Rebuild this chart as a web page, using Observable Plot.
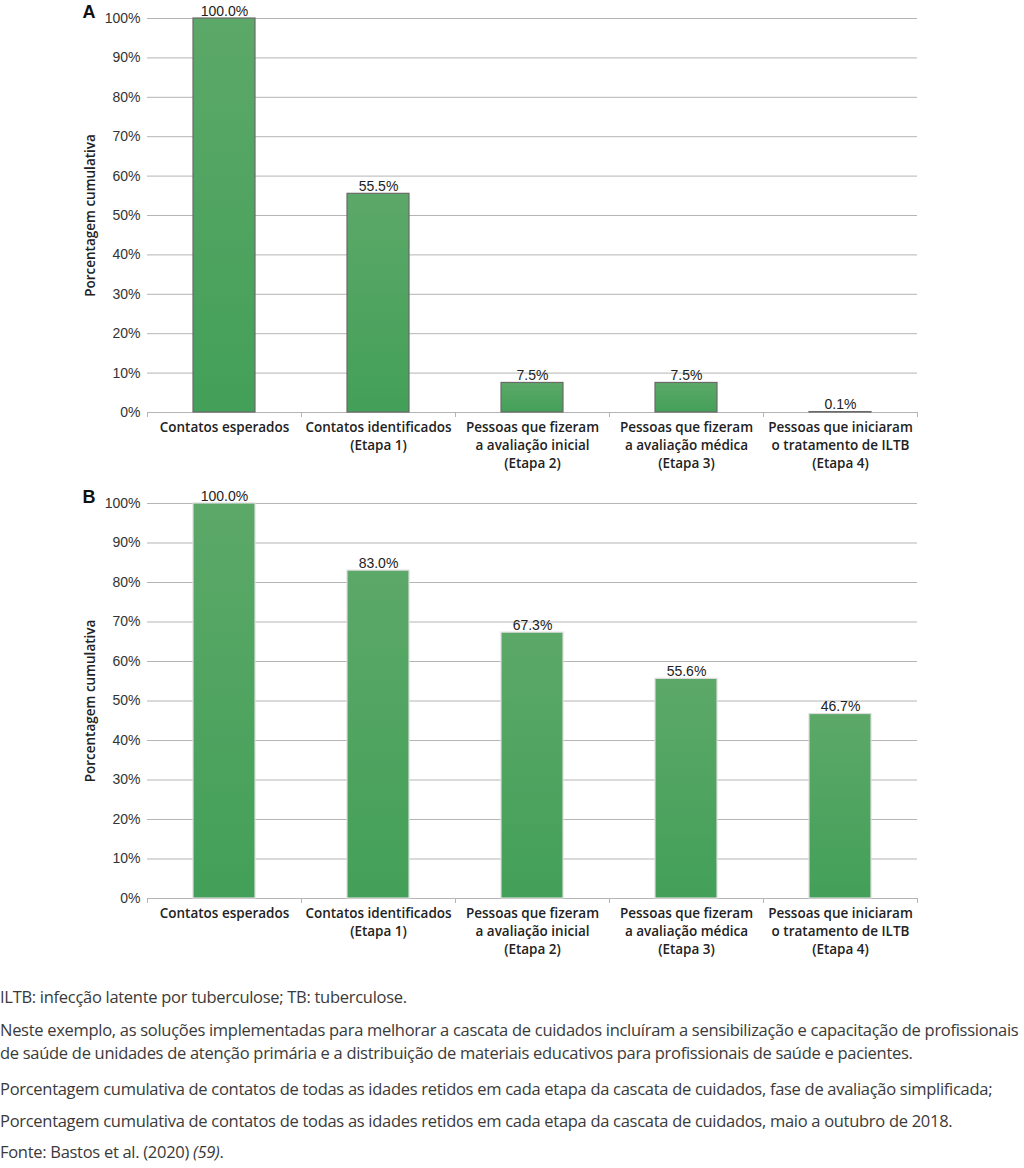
<!DOCTYPE html>
<html><head><meta charset="utf-8">
<script src="https://cdn.jsdelivr.net/npm/d3@7"></script>
<script src="https://cdn.jsdelivr.net/npm/@observablehq/plot@0.6"></script>
<style>
body{margin:0;background:#fff;width:1024px;}
#footer{font-family:"Open Sans",sans-serif;font-size:16.5px;color:#3a3a3a;padding-top:15px;letter-spacing:-0.29px;}
#footer p{margin:0 0 10px 0;line-height:23px;white-space:nowrap;}
</style></head><body>
<div id="charts"></div>
<div id="footer">
<p style="margin-bottom:10px">ILTB: infecção latente por tuberculose; TB: tuberculose.</p>
<p style="margin-bottom:13px">Neste exemplo, as soluções implementadas para melhorar a cascata de cuidados incluíram a sensibilização e capacitação de profissionais<br>de saúde de unidades de atenção primária e a distribuição de materiais educativos para profissionais de saúde e pacientes.</p>
<p style="margin-bottom:9px">Porcentagem cumulativa de contatos de todas as idades retidos em cada etapa da cascata de cuidados, fase de avaliação simplificada;</p>
<p style="margin-bottom:8px">Porcentagem cumulativa de contatos de todas as idades retidos em cada etapa da cascata de cuidados, maio a outubro de 2018.</p>
<p>Fonte: Bastos et al. (2020) <i>(59)</i>.</p>
</div>
<script>
const categories = [
  "Contatos esperados",
  "Contatos identificados\n(Etapa 1)",
  "Pessoas que fizeram\na avaliação inicial\n(Etapa 2)",
  "Pessoas que fizeram\na avaliação médica\n(Etapa 3)",
  "Pessoas que iniciaram\no tratamento de ILTB\n(Etapa 4)"
];
const valuesA = [100.0, 55.5, 7.5, 7.5, 0.1];
const valuesB = [100.0, 83.0, 67.3, 55.6, 46.7];
const yTicks = [0,10,20,30,40,50,60,70,80,90,100];
const panels = [
  {letter: "A", values: valuesA, stroke: "#6a6a6a", mb: 73, id: "gA"},
  {letter: "B", values: valuesB, stroke: "#dcdcdc", mb: 72, id: "gB"}
];

const W = 1024, ML = 147, MR = 107;
const bw = (W - ML - MR) / 5;

for (const p of panels) {
  const data = categories.map((c, i) => ({cat: c, v: p.values[i]}));
  const chart = Plot.plot({
    width: W, height: 485,
    marginTop: 18, marginBottom: p.mb, marginLeft: ML, marginRight: MR,
    style: {fontFamily: "'Liberation Sans', Arial, sans-serif", fontSize: "14px", color: "#333", background: "#fff"},
    x: {domain: categories, paddingInner: 0.6, paddingOuter: 0.3, label: null},
    y: {domain: [0, 100], ticks: yTicks, label: null},
    marks: [
      Plot.gridY(yTicks, {stroke: "#b5b5b5", strokeOpacity: 1, strokeWidth: 1}),
      Plot.axisY({ticks: yTicks, tickSize: 0, tickPadding: 7, tickFormat: d => d + "%", fontSize: 14,
        label: "Porcentagem cumulativa", labelAnchor: "center", labelArrow: "none", labelOffset: 62}),
      Plot.ruleY([0], {stroke: "#b5b5b5"}),
      Plot.ruleX(categories, {x: d => d, y1: 0, y2: 0, dx: -bw/2, insetBottom: -5, stroke: "#b5b5b5"}),
      Plot.ruleX([categories[4]], {x: d => d, y1: 0, y2: 0, dx: bw/2, insetBottom: -5, stroke: "#b5b5b5"}),
      Plot.barY(data, {x: "cat", y: "v", fill: `url(#${p.id})`, stroke: p.stroke, strokeWidth: 1.2}),
      Plot.text(data, {x: "cat", y: "v", text: d => d.v.toFixed(1) + "%", dy: -3, lineAnchor: "bottom", fontSize: 14, fill: "#222"}),
      Plot.axisX({tickSize: 0, tickPadding: 7, lineHeight: 1.33, fontFamily: "'Open Sans', sans-serif", fontWeight: 600, fontSize: 13.5, fill: "#222", label: null}),
      Plot.text([p.letter], {text: d => d, frameAnchor: "top-left", dx: -65, dy: -13, fontWeight: "bold", fontSize: 18, fill: "#111", textAnchor: "start", lineAnchor: "top"})
    ]
  });
  chart.style.display = "block";
  const defs = d3.select(chart).insert("defs", ":first-child");
  const g = defs.append("linearGradient").attr("id", p.id).attr("x1", 0).attr("y1", 0).attr("x2", 0).attr("y2", 1);
  g.append("stop").attr("offset", "0%").attr("stop-color", "#5ca868");
  g.append("stop").attr("offset", "100%").attr("stop-color", "#43a058");
  d3.select(chart).selectAll("[aria-label='y-axis label'] text, [aria-label='y-axis label']")
    .attr("font-family", "'Open Sans', sans-serif").attr("font-weight", 600).attr("fill", "#222").attr("font-size", 13.5);
  document.getElementById("charts").appendChild(chart);
}
</script>
</body></html>
